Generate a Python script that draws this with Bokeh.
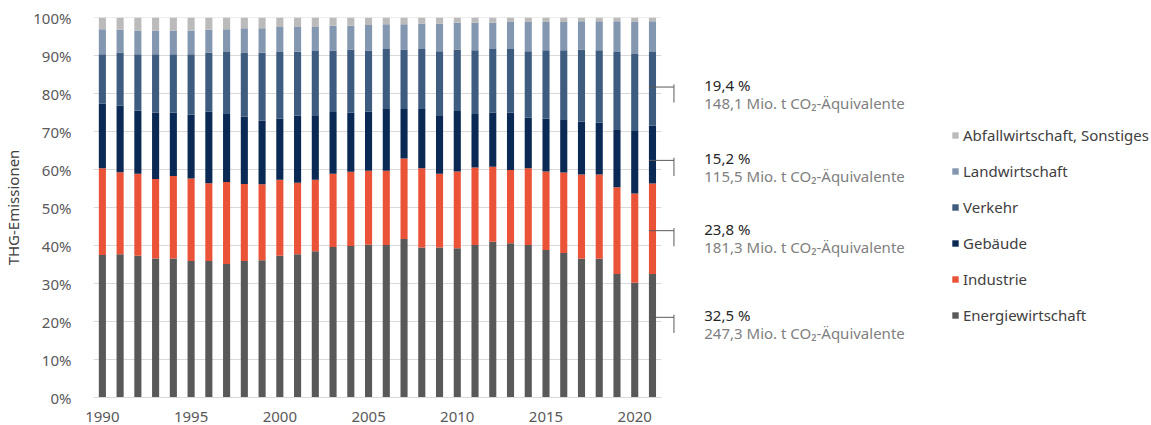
from bokeh.plotting import figure
from bokeh.models import (ColumnDataSource, FixedTicker, PrintfTickFormatter,
                          Range1d, Legend, LegendItem)
from bokeh.core.properties import value
from bokeh.embed import file_html
from bokeh.resources import INLINE

# Anteile der Sektoren an den THG-Emissionen in Prozent
years = list(range(1990, 2022))
energie = [37.5, 37.7, 37.3, 36.6, 36.6, 35.9, 35.9, 35.1, 35.9, 36.1, 37.3, 37.7,
           38.5, 39.6, 39.9, 40.2, 40.1, 41.7, 39.5, 39.5, 39.3, 40.1, 41.0, 40.6,
           40.1, 38.8, 38.0, 36.5, 36.5, 32.5, 30.2, 32.5]
industrie = [22.8, 21.6, 21.6, 20.9, 21.7, 21.7, 20.5, 21.6, 20.3, 20.0, 20.0, 18.8,
             18.8, 19.3, 19.5, 19.5, 19.6, 21.2, 20.8, 19.4, 20.2, 20.4, 19.7, 19.3,
             20.2, 20.7, 21.2, 22.2, 22.2, 22.8, 23.5, 23.8]
gebaeude = [17.0, 17.5, 16.6, 17.5, 16.7, 16.9, 18.8, 18.1, 17.7, 16.7, 16.1, 17.7,
            17.0, 16.2, 15.6, 15.5, 16.4, 13.0, 15.6, 15.4, 15.9, 14.1, 14.3, 15.1,
            13.3, 13.9, 14.0, 13.9, 13.6, 15.3, 16.4, 15.2]
verkehr = [13.0, 14.0, 14.8, 15.3, 15.3, 15.8, 15.5, 16.1, 16.9, 17.9, 17.5, 16.8,
           16.9, 16.2, 16.6, 16.1, 15.6, 15.7, 15.8, 16.8, 16.2, 16.8, 16.7, 16.7,
           17.5, 18.0, 18.2, 19.0, 19.1, 20.3, 20.3, 19.4]
landwirtschaft = [6.6, 6.0, 6.3, 6.3, 6.3, 6.3, 6.1, 6.0, 6.4, 6.5, 6.6, 6.5,
                  6.3, 6.5, 6.2, 6.7, 6.5, 6.6, 6.7, 7.3, 7.0, 7.2, 6.9, 7.1,
                  7.7, 7.4, 7.4, 7.4, 7.6, 8.1, 8.4, 8.1]
abfall = [3.1, 3.2, 3.4, 3.4, 3.4, 3.4, 3.2, 3.1, 2.8, 2.8, 2.5, 2.5,
          2.5, 2.2, 2.2, 2.0, 1.8, 1.8, 1.6, 1.6, 1.4, 1.4, 1.4, 1.2,
          1.2, 1.2, 1.2, 1.0, 1.0, 1.0, 1.2, 1.0]

sectors = ["Energiewirtschaft", "Industrie", "Gebäude", "Verkehr",
           "Landwirtschaft", "Abfallwirtschaft, Sonstiges"]
keys = ["energie", "industrie", "gebaeude", "verkehr", "landwirtschaft", "abfall"]
colors = ["#595959", "#EA5338", "#0A2A55", "#3E5B80", "#8497B0", "#BBBBBB"]

# Emissionen 2021 in Mio. t CO2-Äquivalente (Energie, Industrie, Gebäude, Verkehr)
mio_t_2021 = ["247,3", "181,3", "115,5", "148,1"]

y_ticks = list(range(0, 101, 10))
x_ticks = list(range(1990, 2021, 5))

FONT = "Noto Sans"
FS = "15px"
BAR_W = 0.4

src = ColumnDataSource(dict(year=years, energie=energie, industrie=industrie,
                            gebaeude=gebaeude, verkehr=verkehr,
                            landwirtschaft=landwirtschaft, abfall=abfall))

# frame spans the whole width; the bar area covers 1989.5 .. 2021.5
x_start, x_end_bars = years[0] - 0.5, years[-1] + 0.5
px_per_year = 570 / (x_end_bars - x_start)
frame_w = 1151 - 89 - 1
p = figure(width=1151, height=425, output_backend="svg", toolbar_location=None,
           x_range=Range1d(x_start, x_start + frame_w / px_per_year),
           y_range=Range1d(0, 100),
           min_border_left=89, min_border_right=1,
           min_border_top=17, min_border_bottom=28)
p.outline_line_color = None
p.xgrid.visible = False
p.ygrid.visible = False

# horizontal gridlines limited to the bar area
p.segment(x0=[x_start] * len(y_ticks), x1=[x_end_bars] * len(y_ticks),
          y0=y_ticks, y1=y_ticks, line_color="#D9D9D9", line_width=1)

renderers = p.vbar_stack(keys, x="year", width=BAR_W, source=src,
                         color=colors, line_color=None)

# axes
p.yaxis.ticker = FixedTicker(ticks=y_ticks)
p.yaxis.formatter = PrintfTickFormatter(format="%d%%")
p.yaxis.axis_line_color = None
p.yaxis.major_tick_line_color = None
p.yaxis.minor_tick_line_color = None
p.yaxis.major_label_standoff = 16
p.yaxis.major_label_text_font = FONT
p.yaxis.major_label_text_font_size = FS
p.yaxis.major_label_text_color = "#595959"
p.yaxis.axis_label = "THG-Emissionen"
p.yaxis.axis_label_text_font = FONT
p.yaxis.axis_label_text_font_size = FS
p.yaxis.axis_label_text_font_style = "normal"
p.yaxis.axis_label_text_color = "#404040"
p.yaxis.axis_label_standoff = 7

p.xaxis.ticker = FixedTicker(ticks=x_ticks)
p.xaxis.bounds = (x_start, x_end_bars)
p.xaxis.axis_line_color = "#D9D9D9"
p.xaxis.major_tick_line_color = None
p.xaxis.minor_tick_line_color = None
p.xaxis.major_label_standoff = 8
p.xaxis.major_label_text_font = FONT
p.xaxis.major_label_text_font_size = FS
p.xaxis.major_label_text_color = "#595959"

# callouts for the latest year
last = years[-1]
shares_last = [energie[-1], industrie[-1], gebaeude[-1], verkehr[-1]]
callout_y = [21.1, 43.9, 62.4, 81.7]
x_hook = last + 1.21
x_text = last + 2.92
p.segment(x0=[last - BAR_W / 2] * 4, x1=[x_hook] * 4, y0=callout_y, y1=callout_y,
          line_color="#595959", line_width=1)
p.segment(x0=[x_hook] * 4, x1=[x_hook] * 4,
          y0=[y + 0.7 for y in callout_y], y1=[y - 4.1 for y in callout_y],
          line_color="#595959", line_width=1)
pct_text = [f"{v:.1f}".replace(".", ",") + " %" for v in shares_last]
mt_text = [f"{m} Mio. t CO\u2082-Äquivalente" for m in mio_t_2021]
p.text(x=[x_text] * 4, y=callout_y, text=pct_text, y_offset=-2,
       text_font=value(FONT), text_font_size=FS, text_color="#262626",
       text_baseline="middle", text_align="left")
p.text(x=[x_text] * 4, y=callout_y, text=mt_text, y_offset=16,
       text_font=value(FONT), text_font_size=FS, text_color="#808080",
       text_baseline="middle", text_align="left")

# legend, top entry = top of the stack
items = [LegendItem(label=s, renderers=[r]) for s, r in zip(sectors, renderers)][::-1]
legend = Legend(items=items, location=(858, 72))
legend.background_fill_alpha = 0
legend.border_line_alpha = 0
legend.padding = 0
legend.margin = 0
legend.glyph_width = 8
legend.glyph_height = 8
legend.label_standoff = 4
legend.label_height = 20
legend.spacing = 16
legend.label_text_font = FONT
legend.label_text_font_size = FS
legend.label_text_color = "#404040"
p.add_layout(legend)

open("out.html", "w").write(file_html(p, INLINE))
